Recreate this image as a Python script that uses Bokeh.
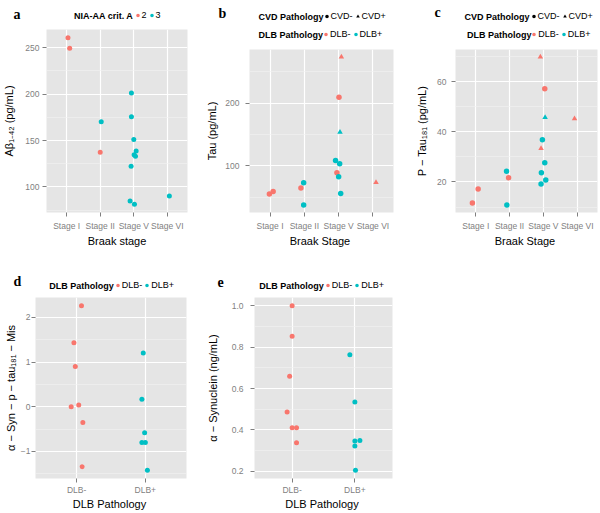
from bokeh.plotting import figure
from bokeh.models import (Range1d, FactorRange, ColumnDataSource, Label, Legend, LegendItem,
                          SingleIntervalTicker, PrintfTickFormatter)
from bokeh.transform import factor_cmap, factor_mark
from bokeh.layouts import row, column
from bokeh.embed import file_html
from bokeh.resources import INLINE

# ---------------- data ----------------
stages = ["Stage I", "Stage II", "Stage V", "Stage VI"]
dlb_levels = ["DLB-", "DLB+"]
cvd_levels = ["CVD-", "CVD+"]
crit_levels = ["2", "3"]

# panel a: Abeta 1-42 by Braak stage, coloured by NIA-AA criterion A
a_stage = ["Stage I", "Stage I", "Stage II", "Stage II",
           "Stage V", "Stage V", "Stage V", "Stage V", "Stage V", "Stage V", "Stage V", "Stage V", "Stage V",
           "Stage VI"]
a_value = [260.5, 249.3, 170.3, 137.5,
           201.0, 175.7, 151.0, 138.8, 134.6, 133.2, 122.3, 84.8, 81.5,
           90.2]
a_crit = ["2", "2", "3", "2",
          "3", "3", "3", "3", "3", "3", "3", "3", "3",
          "3"]
a_jitter = [0.04, 0.09, 0.03, 0.0,
            -0.07, -0.07, 0.0, 0.07, 0.01, 0.05, -0.08, -0.11, 0.02,
            0.06]

# panel b: Tau
b_stage = ["Stage I", "Stage I", "Stage II", "Stage II", "Stage II",
           "Stage V", "Stage V", "Stage V", "Stage V", "Stage V", "Stage V", "Stage V", "Stage V",
           "Stage VI"]
b_value = [54.8, 59.0, 64.4, 72.9, 37.2,
           273.9, 209.6, 153.7, 108.5, 103.2, 88.8, 82.4, 55.9,
           73.4]
b_dlb = ["DLB-", "DLB-", "DLB-", "DLB+", "DLB+",
         "DLB-", "DLB-", "DLB+", "DLB+", "DLB+", "DLB-", "DLB+", "DLB+",
         "DLB-"]
b_cvd = ["CVD-", "CVD-", "CVD-", "CVD-", "CVD-",
         "CVD+", "CVD-", "CVD+", "CVD-", "CVD-", "CVD-", "CVD-", "CVD-",
         "CVD+"]
b_jitter = [-0.02, 0.09, -0.1, -0.02, -0.02,
            0.08, 0.01, 0.04, -0.09, 0.03, -0.05, 0.0, 0.06,
            0.09]

# panel c: P-Tau181
c_stage = ["Stage I", "Stage I", "Stage II", "Stage II", "Stage II",
           "Stage V", "Stage V", "Stage V", "Stage V", "Stage V", "Stage V", "Stage V", "Stage V", "Stage V",
           "Stage VI"]
c_value = [11.6, 17.2, 24.3, 21.7, 10.8,
           69.8, 57.1, 45.7, 36.8, 33.4, 27.7, 23.7, 20.8, 19.2,
           45.2]
c_dlb = ["DLB-", "DLB-", "DLB+", "DLB-", "DLB+",
         "DLB-", "DLB-", "DLB+", "DLB+", "DLB-", "DLB+", "DLB+", "DLB+", "DLB+",
         "DLB-"]
c_cvd = ["CVD-", "CVD-", "CVD-", "CVD-", "CVD-",
         "CVD+", "CVD-", "CVD+", "CVD-", "CVD+", "CVD-", "CVD-", "CVD-", "CVD-",
         "CVD+"]
c_jitter = [-0.10, 0.07, -0.09, -0.03, -0.08,
            -0.09, 0.04, 0.05, -0.03, -0.07, 0.04, -0.06, 0.07, -0.07,
            -0.08]

# panel d: alpha-Syn - p-tau181 - Mis
d_group = ["DLB-"] * 7 + ["DLB+"] * 6
d_value = [2.26, 1.43, 0.90, 0.04, 0.00, -0.35, -1.34,
           1.20, 0.17, -0.58, -0.80, -0.80, -1.42]
d_jitter = [0.07, -0.04, -0.02, 0.03, -0.08, 0.09, 0.08,
            -0.03, -0.05, -0.01, -0.05, 0.00, 0.03]

# panel e: alpha-Synuclein
e_group = ["DLB-"] * 7 + ["DLB+"] * 6
e_value = [1.00, 0.853, 0.659, 0.486, 0.411, 0.411, 0.338,
           0.763, 0.535, 0.347, 0.349, 0.322, 0.205]
e_jitter = [0.0, 0.0, -0.04, -0.08, 0.0, 0.07, 0.07,
            -0.08, 0.0, 0.0, 0.08, 0.0, 0.01]

# ---------------- style ----------------
SANS = "Liberation Sans"
SERIF = "Liberation Serif"
RED, CYAN = "#F8766D", "#00BFC4"
PANEL_BG = "#E5E5E5"
GREY_TXT = "#7F7F7F"


def make_fig(factors, yvals, geom, xlabel, ylabel, interval, xstand, ystand, fmt=None):
    left, fw, right, fh, bottom = geom
    lo, hi = min(yvals), max(yvals)
    pad = 0.05 * (hi - lo)
    p = figure(x_range=FactorRange(factors=factors, range_padding=0.1, range_padding_units="absolute"),
               y_range=Range1d(lo - pad, hi + pad),
               frame_width=fw, frame_height=fh,
               min_border_left=left, min_border_right=right,
               min_border_top=0, min_border_bottom=bottom,
               output_backend="svg", toolbar_location=None, tools="")
    p.background_fill_color = PANEL_BG
    p.border_fill_color = "white"
    p.outline_line_color = None
    p.yaxis.ticker = SingleIntervalTicker(interval=interval, num_minor_ticks=2)
    if fmt:
        p.yaxis.formatter = PrintfTickFormatter(format=fmt)
    for ax in (p.xaxis[0], p.yaxis[0]):
        ax.axis_line_color = None
        ax.major_tick_line_color = GREY_TXT
        ax.major_tick_in = 0
        ax.major_tick_out = 4
        ax.minor_tick_line_color = None
        ax.major_label_text_font = SANS
        ax.major_label_text_font_size = "8.5px"
        ax.major_label_text_color = GREY_TXT
        ax.axis_label_text_font = SANS
        ax.axis_label_text_font_size = "11px"
        ax.axis_label_text_font_style = "normal"
        ax.axis_label_text_color = "black"
    p.xaxis.axis_label = xlabel
    p.yaxis.axis_label = ylabel
    p.xaxis.major_label_standoff = xstand[0]
    p.xaxis.axis_label_standoff = xstand[1]
    p.yaxis.major_label_standoff = ystand[0]
    p.yaxis.axis_label_standoff = ystand[1]
    p.xgrid.grid_line_color = "white"
    p.xgrid.grid_line_width = 1.2
    p.ygrid.grid_line_color = "white"
    p.ygrid.grid_line_width = 1.2
    p.ygrid.minor_grid_line_color = "#F2F2F2"
    p.ygrid.minor_grid_line_width = 0.6
    return p


def make_header(w, h):
    hd = figure(width=w, height=h, x_range=Range1d(0, w), y_range=Range1d(0, h),
                x_axis_location=None, y_axis_location=None,
                min_border_left=0, min_border_right=0, min_border_top=0, min_border_bottom=0,
                output_backend="svg", toolbar_location=None, tools="")
    hd.outline_line_color = None
    hd.background_fill_color = "white"
    hd.border_fill_color = "white"
    hd.grid.visible = False
    return hd


def legend_row(hd, title, items, xt, xl, yc):
    hd.add_layout(Label(x=xt, y=yc, text=title,
                        text_align="right", text_baseline="middle", text_font=SANS,
                        text_font_size="9px", text_font_style="bold", text_color="black"))
    leg = Legend(items=items, orientation="horizontal", location=(xl, yc - 5),
                 padding=0, margin=0, spacing=0, glyph_width=9, glyph_height=10,
                 label_standoff=0, label_height=10, label_width=0,
                 label_text_font=SANS, label_text_font_size="9px", label_text_color="black",
                 border_line_color=None, background_fill_alpha=0)
    hd.add_layout(leg)


def letter(hd, txt, x, y):
    hd.add_layout(Label(x=x, y=y, text=txt,
                        text_font=SERIF, text_font_size="14px", text_font_style="bold",
                        text_baseline="alphabetic", text_color="black"))


def key_renderer(hd, src, **kw):
    # legend-key renderer: shares the panel's data, not drawn itself
    r = hd.scatter("y", "y", source=src, size=5, line_color=None, **kw)
    r.visible = False
    return r


def first(seq, cond):
    return next(i for i, v in enumerate(seq) if cond(v))


# ---------------- panel a ----------------
pa = make_fig(stages, a_value, (44, 141, 15, 183, 36), "Braak stage",
              "A\u03b2\u2081\u208b\u2084\u2082 (pg/mL)", 50, (4, 1), (3, 7))
src_a = ColumnDataSource(dict(x=list(zip(a_stage, a_jitter)), y=a_value, crit=a_crit))
pa.scatter("x", "y", source=src_a, size=5, line_color=None,
           fill_color=factor_cmap("crit", [RED, CYAN], crit_levels))
ha = make_header(200, 29)
rka = key_renderer(ha, src_a, fill_color=factor_cmap("crit", [RED, CYAN], crit_levels))
legend_row(ha, "NIA-AA crit. A",
           [LegendItem(label=lv, renderers=[rka], index=first(a_crit, lambda v, lv=lv: v == lv)) for lv in crit_levels],
           133, 132.5, 14)
letter(ha, "a", 13, 15)
cola = column(column(ha), column(pa))


# ---------------- panels b, c ----------------
def stage_panel(stage, vals, dlb, cvd, jit, geom, width, ylabel, interval, ystand, rows, let):
    p = make_fig(stages, vals, geom, "Braak  Stage", ylabel, interval, (4, 1), ystand)
    src = ColumnDataSource(dict(x=list(zip(stage, jit)), y=vals, dlb=dlb, cvd=cvd))
    markers = factor_mark("cvd", ["circle", "triangle"], cvd_levels)
    p.scatter("x", "y", source=src, size=5.5, line_color=None,
              fill_color=factor_cmap("dlb", [RED, CYAN], dlb_levels), marker=markers)
    hd = make_header(width, 49)
    rk_shape = key_renderer(hd, src, fill_color="black", marker=markers)
    rk_col = key_renderer(hd, src, fill_color=factor_cmap("dlb", [RED, CYAN], dlb_levels), marker=markers)
    pairs = list(zip(dlb, cvd))
    cvd_items = [LegendItem(label=lv, renderers=[rk_shape], index=first(cvd, lambda v, lv=lv: v == lv))
                 for lv in cvd_levels]
    dlb_items = [LegendItem(label=lv, renderers=[rk_col],
                            index=first(pairs, lambda v, lv=lv: v[0] == lv and v[1] == "CVD-"))
                 for lv in dlb_levels]
    (xt1, xl1, y1), (xt2, xl2, y2) = rows
    legend_row(hd, "CVD Pathology", cvd_items, xt1, xl1, y1)
    legend_row(hd, "DLB Pathology", dlb_items, xt2, xl2, y2)
    letter(hd, let[0], let[1], let[2])
    return column(column(hd), column(p))


colb = stage_panel(b_stage, b_value, b_dlb, b_cvd, b_jitter, (47, 144, 9, 163, 36), 200,
                   "Tau (pg/mL)", 100, (6, 4),
                   ((121, 119.5, 33), (120.5, 119, 15)), ("b", 16, 36))
colc = stage_panel(c_stage, c_value, c_dlb, c_cvd, c_jitter, (53, 142, 3, 163, 36), 198,
                   "P \u2212 Tau\u2081\u2088\u2081 (pg/mL)", 20, (5, 6),
                   ((127, 126.5, 33), (129, 127.2, 15)), ("c", 32, 37))


# ---------------- panels d, e ----------------
def dlb_panel(group, vals, jit, geom, width, ylabel, interval, fmt, ystand, leg, let):
    p = make_fig(dlb_levels, vals, geom, "DLB  Pathology", ylabel, interval, (2, 0), ystand, fmt)
    src = ColumnDataSource(dict(x=list(zip(group, jit)), y=vals, dlb=group))
    cmap = factor_cmap("dlb", [RED, CYAN], dlb_levels)
    p.scatter("x", "y", source=src, size=5, line_color=None, fill_color=cmap)
    hd = make_header(width, 48)
    rk = key_renderer(hd, src, fill_color=cmap)
    items = [LegendItem(label=lv, renderers=[rk], index=first(group, lambda v, lv=lv: v == lv)) for lv in dlb_levels]
    legend_row(hd, "DLB Pathology", items, leg[0], leg[1], 12)
    letter(hd, let[0], let[1], let[2])
    return column(column(hd), column(p))


cold = dlb_panel(d_group, d_value, d_jitter, (35, 151, 14, 181, 35), 200,
                 "\u03b1 \u2212 Syn \u2212 p \u2212 tau\u2081\u2088\u2081 \u2212 Mis", 1, None, (1, 1),
                 (113.3, 112.8), ("d", 13, 16))
cole = dlb_panel(e_group, e_value, e_jitter, (54, 138, 8, 181, 35), 200,
                 "\u03b1 \u2212 Synuclein (ng/mL)", 0.2, "%.1f", (7, 10),
                 (123.3, 122.8), ("e", 17, 16))

layout = column(row(cola, colb, colc), row(cold, cole))
open("out.html", "w").write(file_html(layout, INLINE))
